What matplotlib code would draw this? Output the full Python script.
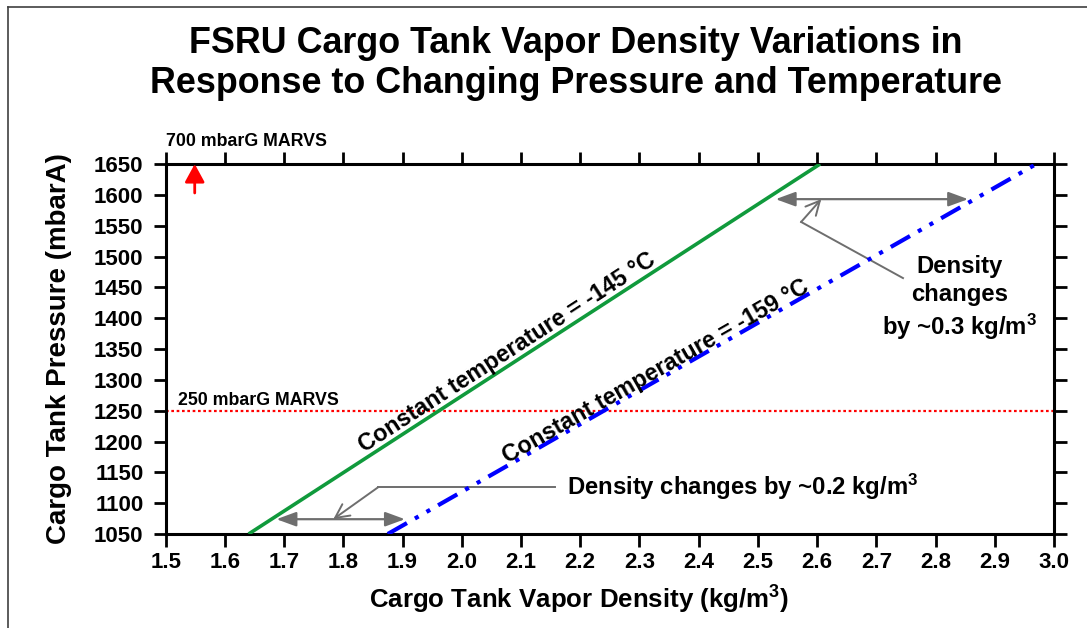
import matplotlib
matplotlib.use("Agg")
import matplotlib.pyplot as plt
from matplotlib.lines import Line2D
import math

# ---------------- data ----------------
pressure = [1050, 1650]                 # mbarA
density_m145 = [1.64, 2.605]            # kg/m3 at -145 C
density_m159 = [1.875, 2.97]            # kg/m3 at -159 C
marvs_250_pressure = 1250
xticks = [1.5, 1.6, 1.7, 1.8, 1.9, 2.0, 2.1, 2.2, 2.3, 2.4, 2.5, 2.6, 2.7, 2.8, 2.9, 3.0]
xtick_labels = ["1.5", "1.6", "1.7", "1.8", "1.9", "2.0", "2.1", "2.2", "2.3", "2.4",
                "2.5", "2.6", "2.7", "2.8", "2.9", "3.0"]
yticks = list(range(1050, 1651, 50))

# annotation geometry (data coords)
low_change = [1.687, 1.904]     # density span at ~1074 mbarA
low_change_p = 1074
high_change = [2.53, 2.855]     # density span at ~1593 mbarA
high_change_p = 1593

plt.rcParams['font.family'] = ['Liberation Sans', 'DejaVu Sans']
plt.rcParams['font.weight'] = 'bold'
plt.rcParams['mathtext.fontset'] = 'custom'
plt.rcParams['mathtext.rm'] = 'Liberation Sans:bold'
plt.rcParams['mathtext.it'] = 'Liberation Sans:bold'
plt.rcParams['mathtext.bf'] = 'Liberation Sans:bold'
plt.rcParams['mathtext.default'] = 'rm'

W, H = 1087, 628
fig = plt.figure(figsize=(W / 100, H / 100), dpi=100)
ax = fig.add_axes([165.7 / W, 1 - 534 / H, (1054 - 165.7) / W, (534 - 164) / H])

GREEN = '#109a3c'
BLUE = '#0000ff'
GRAY = '#6e6e6e'

ax.plot(density_m145, pressure, color=GREEN, lw=2.6, solid_capstyle='butt', zorder=3)
ax.plot(density_m159, pressure, color=BLUE, lw=3.0,
        linestyle=(0, (5.3, 2.2, 1.0, 2.2, 1.0, 2.2)), dash_capstyle='butt', zorder=3)
ax.axhline(marvs_250_pressure, color='#ff0000', lw=1.6, linestyle=(0, (1.2, 1.2)), zorder=2)

ax.set_xlim(1.5, 3.0)
ax.set_ylim(1050, 1650)
ax.set_xticks(xticks)
ax.set_xticklabels(xtick_labels)
ax.set_yticks(yticks)

for s in ax.spines.values():
    s.set_linewidth(2.2)
ax.tick_params(axis='both', which='major', direction='out', length=9, width=2.0,
               labelsize=16, top=True, right=True)
ax.tick_params(axis='y', pad=7)
ax.tick_params(axis='x', pad=4)
for lab in ax.get_xticklabels() + ax.get_yticklabels():
    lab.set_fontweight('bold')

ax.set_xlabel('Cargo Tank Vapor Density (kg/m$^3$)', fontsize=18.6, fontweight='bold')
ax.set_ylabel('Cargo Tank Pressure (mbarA)', fontsize=20, fontweight='bold')
ax.xaxis.set_label_coords(0.465, -0.135)
ax.yaxis.set_label_coords(-0.105, 0.5)

# title (two lines)
fig.text(576 / W, 1 - 53 / H, 'FSRU Cargo Tank Vapor Density Variations in',
         ha='center', va='baseline', fontsize=25.8, fontweight='bold')
fig.text(576 / W, 1 - 93 / H, 'Response to Changing Pressure and Temperature',
         ha='center', va='baseline', fontsize=25.8, fontweight='bold')

# MARVS labels
ax.text(1.521, 1259, '250 mbarG MARVS', fontsize=12.8, fontweight='bold', ha='left', va='baseline')
ax.text(1.5, 1679, '700 mbarG MARVS', fontsize=12.8, fontweight='bold', ha='left', va='baseline',
        clip_on=False)
ax.annotate('', xy=(1.549, 1650), xytext=(1.549, 1603),
            arrowprops=dict(arrowstyle='-|>,head_length=0.55,head_width=0.3', color='#ff0000',
                            lw=2.0, mutation_scale=20, shrinkA=0, shrinkB=0), annotation_clip=False)

# constant-temperature labels along lines
def along(xs, ys, frac):
    return xs[0] + frac * (xs[1] - xs[0]), ys[0] + frac * (ys[1] - ys[0])

def data_angle(xs, ys):
    return math.degrees(math.atan2(ys[1] - ys[0], xs[1] - xs[0]))

fx = (2.087 - density_m145[0]) / (density_m145[1] - density_m145[0])
gx, gy = along(density_m145, pressure, fx)
ax.text(gx, gy, 'Constant temperature = -145 °C', fontsize=16.8, fontweight='bold',
        rotation=data_angle(density_m145, pressure), transform_rotates_text=True,
        rotation_mode='anchor', ha='center', va='bottom', zorder=4)

fb = (2.333 - density_m159[0]) / (density_m159[1] - density_m159[0])
bx, by = along(density_m159, pressure, fb)
ax.text(bx, by + 3, 'Constant temperature = -159 °C', fontsize=16.8, fontweight='bold',
        rotation=data_angle(density_m159, pressure), transform_rotates_text=True,
        rotation_mode='anchor', ha='center', va='baseline', zorder=4)

# density change arrows
dbl = dict(arrowstyle='<|-|>,head_length=0.6,head_width=0.22', color=GRAY, lw=1.6,
           mutation_scale=20, shrinkA=0, shrinkB=0)
ax.annotate('', xy=(low_change[0], low_change_p), xytext=(low_change[1], low_change_p),
            arrowprops=dbl)
ax.annotate('', xy=(high_change[0], high_change_p), xytext=(high_change[1], high_change_p),
            arrowprops=dbl)

lead = dict(arrowstyle='->,head_length=0.5,head_width=0.25', color=GRAY, lw=1.4,
            mutation_scale=20, shrinkA=0, shrinkB=0)
# low leader
ax.plot([2.157, 1.859], [1126, 1126], color=GRAY, lw=1.4)
ax.annotate('', xy=(1.783, low_change_p), xytext=(1.859, 1126), arrowprops=lead)
ax.text(2.177, 1113, 'Density changes by ~0.2 kg/m$^3$', fontsize=17.2, fontweight='bold',
        ha='left', va='baseline')
# high leader
ax.plot([2.745, 2.573], [1465, 1556], color=GRAY, lw=1.4)
ax.annotate('', xy=(2.607, high_change_p), xytext=(2.573, 1556), arrowprops=lead)
ax.text(2.841, 1502, 'Density\nchanges\nby ~0.3 kg/m$^3$', fontsize=17.2, fontweight='bold',
        ha='center', va='top', multialignment='center', linespacing=1.25)

# outer frame lines
fig.add_artist(Line2D([7.5 / W, 7.5 / W], [0, 1 - 7 / H], transform=fig.transFigure,
                      color='#404040', lw=1.2))
fig.add_artist(Line2D([7.5 / W, 1], [1 - 7 / H, 1 - 7 / H], transform=fig.transFigure,
                      color='#404040', lw=1.2))

fig.savefig('out.png', dpi=100)
